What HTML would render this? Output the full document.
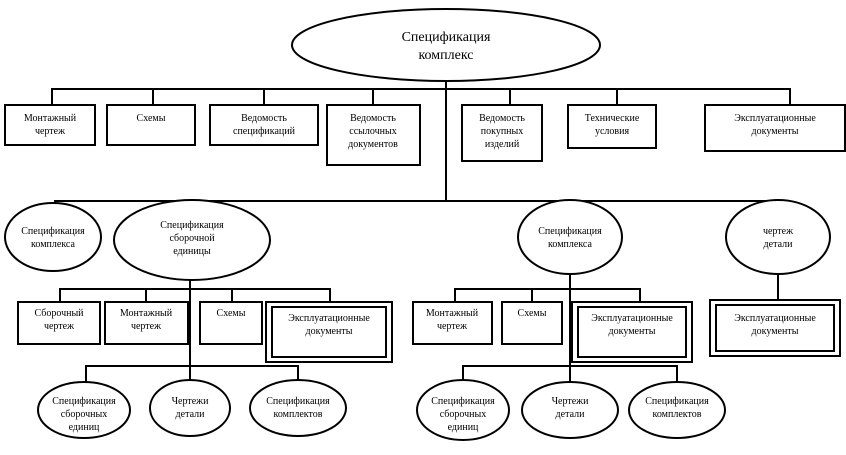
<!DOCTYPE html>
<html><head><meta charset="utf-8"><style>
html,body{margin:0;padding:0;background:#fff;}
svg{display:block;}
text{font-family:"Liberation Serif",serif;font-size:10px;fill:#000;text-anchor:middle;}
</style></head><body>
<svg width="846" height="455" viewBox="0 0 846 455" xmlns="http://www.w3.org/2000/svg">
<g stroke="#000" fill="none" stroke-width="2">
<!-- top -->
<ellipse cx="446" cy="45" rx="154" ry="36" fill="#fff"/>
<line x1="446" y1="81" x2="446" y2="202"/>
<polyline points="52,104 52,89 790,89 790,104"/>
<line x1="153" y1="89" x2="153" y2="104"/>
<line x1="264" y1="89" x2="264" y2="104"/>
<line x1="373" y1="89" x2="373" y2="104"/>
<line x1="510" y1="89" x2="510" y2="104"/>
<line x1="617" y1="89" x2="617" y2="104"/>
<rect x="5" y="105" width="90" height="40"/>
<rect x="107" y="105" width="88" height="40"/>
<rect x="210" y="105" width="108" height="40"/>
<rect x="327" y="105" width="93" height="60"/>
<rect x="462" y="105" width="80" height="56"/>
<rect x="568" y="105" width="88" height="43"/>
<rect x="705" y="105" width="140" height="46"/>
<!-- second level -->
<polyline points="55,214 55,201 778,201 778,214"/>
<line x1="192" y1="201" x2="192" y2="202"/>
<line x1="570" y1="201" x2="570" y2="214"/>
<ellipse cx="53" cy="237" rx="48" ry="34" fill="#fff"/>
<ellipse cx="192" cy="240" rx="78" ry="40" fill="#fff"/>
<ellipse cx="570" cy="237" rx="52" ry="37" fill="#fff"/>
<ellipse cx="778" cy="237" rx="52" ry="37" fill="#fff"/>
<!-- left branch -->
<line x1="190" y1="280" x2="190" y2="385"/>
<polyline points="60,302 60,289 330,289 330,302"/>
<line x1="146" y1="289" x2="146" y2="302"/>
<line x1="232" y1="289" x2="232" y2="302"/>
<rect x="18" y="302" width="82" height="42"/>
<rect x="105" y="302" width="83" height="42"/>
<rect x="200" y="302" width="62" height="42"/>
<rect x="266" y="302" width="126" height="60"/>
<rect x="272" y="307" width="114" height="50"/>
<polyline points="86,382 86,366 298,366 298,382"/>
<ellipse cx="84" cy="410" rx="46" ry="28" fill="#fff"/>
<ellipse cx="190" cy="408" rx="40" ry="28" fill="#fff"/>
<ellipse cx="298" cy="408" rx="48" ry="28" fill="#fff"/>
<!-- right branch -->
<line x1="570" y1="274" x2="570" y2="385"/>
<polyline points="455,302 455,289 640,289 640,302"/>
<line x1="532" y1="289" x2="532" y2="302"/>
<rect x="413" y="302" width="79" height="42"/>
<rect x="502" y="302" width="60" height="42"/>
<rect x="572" y="302" width="120" height="60"/>
<rect x="578" y="307" width="108" height="50"/>
<polyline points="463,382 463,366 677,366 677,382"/>
<ellipse cx="463" cy="410" rx="46" ry="30" fill="#fff"/>
<ellipse cx="570" cy="410" rx="48" ry="28" fill="#fff"/>
<ellipse cx="677" cy="410" rx="48" ry="28" fill="#fff"/>
<!-- far right -->
<line x1="778" y1="274" x2="778" y2="300"/>
<rect x="710" y="300" width="130" height="56"/>
<rect x="716" y="305" width="118" height="46"/>
</g>
<text x="446" y="41" style="font-size:14px">Спецификация</text>
<text x="446" y="59" style="font-size:14px">комплекс</text>
<text x="50" y="121">Монтажный</text><text x="50" y="134">чертеж</text>
<text x="151" y="121">Схемы</text>
<text x="264" y="121">Ведомость</text><text x="264" y="134">спецификаций</text>
<text x="373" y="121">Ведомость</text><text x="373" y="134">ссылочных</text><text x="373" y="147">документов</text>
<text x="502" y="121">Ведомость</text><text x="502" y="134">покупных</text><text x="502" y="147">изделий</text>
<text x="612" y="121">Технические</text><text x="612" y="134">условия</text>
<text x="775" y="121">Эксплуатационные</text><text x="775" y="134">документы</text>
<text x="53" y="234">Спецификация</text><text x="53" y="247">комплекса</text>
<text x="192" y="228">Спецификация</text><text x="192" y="241">сборочной</text><text x="192" y="254">единицы</text>
<text x="570" y="234">Спецификация</text><text x="570" y="247">комплекса</text>
<text x="778" y="234">чертеж</text><text x="778" y="247">детали</text>
<text x="59" y="316">Сборочный</text><text x="59" y="329">чертеж</text>
<text x="146" y="316">Монтажный</text><text x="146" y="329">чертеж</text>
<text x="231" y="316">Схемы</text>
<text x="329" y="321">Эксплуатационные</text><text x="329" y="334">документы</text>
<text x="452" y="316">Монтажный</text><text x="452" y="329">чертеж</text>
<text x="532" y="316">Схемы</text>
<text x="632" y="321">Эксплуатационные</text><text x="632" y="334">документы</text>
<text x="775" y="321">Эксплуатационные</text><text x="775" y="334">документы</text>
<text x="84" y="404">Спецификация</text><text x="84" y="417">сборочных</text><text x="84" y="430">единиц</text>
<text x="190" y="404">Чертежи</text><text x="190" y="417">детали</text>
<text x="298" y="404">Спецификация</text><text x="298" y="417">комплектов</text>
<text x="463" y="404">Спецификация</text><text x="463" y="417">сборочных</text><text x="463" y="430">единиц</text>
<text x="570" y="404">Чертежи</text><text x="570" y="417">детали</text>
<text x="677" y="404">Спецификация</text><text x="677" y="417">комплектов</text>
</svg>
</body></html>
